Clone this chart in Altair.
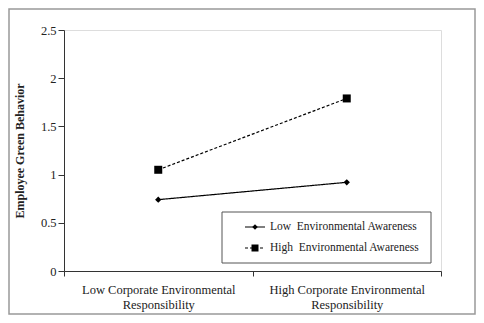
import altair as alt
import pandas as pd

cer_levels = ["Low Corporate Environmental Responsibility",
              "High Corporate Environmental Responsibility"]
series_names = ["Low Environmental Awareness", "High Environmental Awareness"]
low_ea = [0.74, 0.92]
high_ea = [1.05, 1.79]
y_ticks = [0, 0.5, 1, 1.5, 2, 2.5]

rows = []
for s, vals in zip(series_names, [low_ea, high_ea]):
    for c, v in zip(cer_levels, vals):
        rows.append({"cer": c, "series": s, "value": v})
df = pd.DataFrame(rows)
legend_df = pd.DataFrame({"series": series_names})

FONT = "Liberation Serif"
INK = "#222222"

x_enc = alt.X(
    "cer:N", sort=cer_levels,
    scale=alt.Scale(type="band", paddingInner=0, paddingOuter=0),
    axis=alt.Axis(title=None, labelAngle=0, tickBand="extent",
                  labelExpr="datum.label ? [replace(datum.label, ' Responsibility', ''), 'Responsibility'] : ''",
                  labelFontSize=12.5, labelPadding=7, labelLineHeight=15,
                  labelOverlap=False, tickSize=5, domainColor="#333",
                  tickColor="#333", labelColor=INK, labelFont=FONT),
)
y_enc = alt.Y(
    "value:Q", scale=alt.Scale(domain=[0, 2.5], nice=False),
    axis=alt.Axis(title="Employee Green Behavior", values=y_ticks, format="~g",
                  grid=False, tickSize=6, labelPadding=2, labelFontSize=12.5,
                  labelFont=FONT, labelColor=INK, titleFont=FONT,
                  titleFontSize=12, titleFontWeight="bold", titleColor=INK,
                  titlePadding=14, domainColor="#333", tickColor="#333"),
)

dash_scale = alt.Scale(domain=series_names, range=[[1, 0], [3, 2]])
shape_scale = alt.Scale(domain=series_names, range=["diamond", "square"])
size_scale = alt.Scale(domain=series_names, range=[40, 64])

base = alt.Chart(df)

lines = base.mark_line(color="black", strokeWidth=1.2).encode(
    x=x_enc, y=y_enc,
    strokeDash=alt.StrokeDash("series:N", scale=dash_scale, legend=None),
)
points = base.mark_point(filled=True, color="black", opacity=1).encode(
    x=x_enc, y=y_enc,
    shape=alt.Shape("series:N", scale=shape_scale, legend=None),
    size=alt.Size("series:N", scale=size_scale, legend=None),
)

frame = alt.Chart(pd.DataFrame({"k": [0]})).mark_rect(
    fill=None, stroke="#999999", strokeWidth=1.5
).encode(x=alt.value(-55), x2=alt.value(411), y=alt.value(-21), y2=alt.value(284))

main = alt.layer(frame, lines, points)

# legend drawn as marks, rows placed by a point scale of their own
leg_y = alt.Y("series:N", sort=series_names,
              scale=alt.Scale(type="point", padding=0, domain=series_names,
                              range=[197, 218]), axis=None)
leg_base = alt.Chart(legend_df)
leg_box = alt.Chart(pd.DataFrame({"k": [0]})).mark_rect(
    fill="white", stroke="#555555", strokeWidth=1
).encode(x=alt.value(158), x2=alt.value(367), y=alt.value(182), y2=alt.value(233))
leg_rules = leg_base.mark_rule(color="black", strokeWidth=1.1).encode(
    x=alt.value(181), x2=alt.value(201), y=leg_y,
    strokeDash=alt.StrokeDash("series:N", scale=dash_scale, legend=None),
)
leg_points = leg_base.mark_point(filled=True, color="black", opacity=1).encode(
    x=alt.value(191), y=leg_y,
    shape=alt.Shape("series:N", scale=shape_scale, legend=None),
    size=alt.Size("series:N", scale=alt.Scale(domain=series_names, range=[30, 49]),
                  legend=None),
)
leg_text = leg_base.transform_calculate(
    label="replace(datum.series, ' ', '\u00a0\u00a0')"
).mark_text(
    align="left", baseline="middle", font=FONT, fontSize=11.5, color=INK
).encode(x=alt.value(206), y=leg_y, text="label:N")

legend = alt.layer(leg_box, leg_rules, leg_points, leg_text).resolve_scale(
    size="independent")

chart = alt.layer(main, legend).resolve_scale(
    y="independent", size="independent"
).properties(
    width=377, height=241,
    padding={"left": 56, "top": 22, "right": 35, "bottom": 44},
    autosize=alt.AutoSizeParams(type="none"),
).configure_view(stroke="#888888", strokeWidth=1.2).configure(font=FONT)

chart.save("out.html", embed_options={"renderer": "svg", "actions": False})
